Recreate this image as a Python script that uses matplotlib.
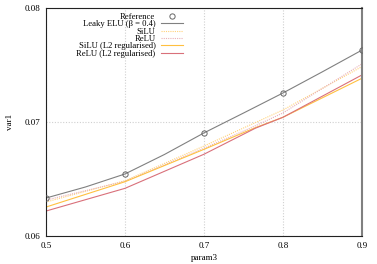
import matplotlib
matplotlib.use("Agg")
import matplotlib.pyplot as plt

# Data
ref_x = [0.5, 0.6, 0.7, 0.8, 0.9]
ref_y = [0.06333, 0.06544, 0.06904, 0.07254, 0.0763]

lelu_x = [0.5, 0.55, 0.6, 0.65, 0.7, 0.75, 0.8, 0.85, 0.9]
lelu_y = [0.06333, 0.06430, 0.06544, 0.06715, 0.06904, 0.07078, 0.07254, 0.07440, 0.0763]

silu_x = [0.5, 0.6, 0.7, 0.8, 0.9]
silu_y = [0.06298, 0.06485, 0.06789, 0.07105, 0.07485]

relu_x = [0.5, 0.6, 0.7, 0.76, 0.8, 0.9]
relu_y = [0.06315, 0.06480, 0.06770, 0.06950, 0.07079, 0.07509]

silu_l2_x = [0.5, 0.6, 0.7, 0.765, 0.8, 0.9]
silu_l2_y = [0.06254, 0.06476, 0.06760, 0.06950, 0.07041, 0.07383]

relu_l2_x = [0.5, 0.6, 0.7, 0.765, 0.8, 0.9]
relu_l2_y = [0.06219, 0.06418, 0.06717, 0.06945, 0.07041, 0.07412]

xticks = [0.5, 0.6, 0.7, 0.8, 0.9]
yticks = [0.06, 0.07, 0.08]

plt.rcParams['font.family'] = ['Liberation Serif', 'DejaVu Serif']
fs = 6.5
lfs = 6.2

fig = plt.figure(figsize=(3.77, 2.64), dpi=100)
ax = fig.add_axes([0.122, 0.106, 0.838, 0.864])

ax.plot(ref_x, ref_y, linestyle='none', marker='o', markersize=3.8,
        markerfacecolor='none', markeredgecolor='#666666', markeredgewidth=0.7,
        label='Reference', zorder=5)
ax.plot(lelu_x, lelu_y, color='#808080', lw=0.8, label='Leaky ELU (β = 0.4)')
ax.plot(silu_x, silu_y, color='#ffd27a', lw=0.8, linestyle=(0, (1, 1)), label='SiLU')
ax.plot(relu_x, relu_y, color='#e8b0b8', lw=0.8, linestyle=(0, (1, 1)), label='ReLU')
ax.plot(silu_l2_x, silu_l2_y, color='#ffc040', lw=0.8, label='SiLU (L2 regularised)')
ax.plot(relu_l2_x, relu_l2_y, color='#d9707a', lw=0.8, label='ReLU (L2 regularised)')

ax.set_xlim(0.5, 0.9)
ax.set_ylim(0.06, 0.08)
ax.set_xticks(xticks)
ax.set_xticklabels([f"{v:g}" for v in xticks])
ax.set_yticks(yticks)
ax.set_yticklabels([f"{v:g}" for v in yticks])
ax.tick_params(axis='both', labelsize=fs, length=0, pad=4)
ax.grid(True, color='#d0d0d0', linestyle=(0, (1, 1.5)), lw=0.8)

for s in ['left', 'top', 'bottom']:
    ax.spines[s].set_linewidth(0.8)
    ax.spines[s].set_color('#222222')
ax.spines['right'].set_linewidth(1.5)
ax.spines['right'].set_color('#808080')

ax.set_xlabel('param3', fontsize=fs, labelpad=3)
ax.set_ylabel('var1', fontsize=fs, labelpad=8)

leg = ax.legend(loc='upper right', bbox_to_anchor=(0.45, 1.0), frameon=False,
                fontsize=lfs, markerfirst=False, handlelength=2.6,
                handletextpad=0.6, labelspacing=-0.08, borderaxespad=0.2)

fig.savefig('out.png', dpi=100)
